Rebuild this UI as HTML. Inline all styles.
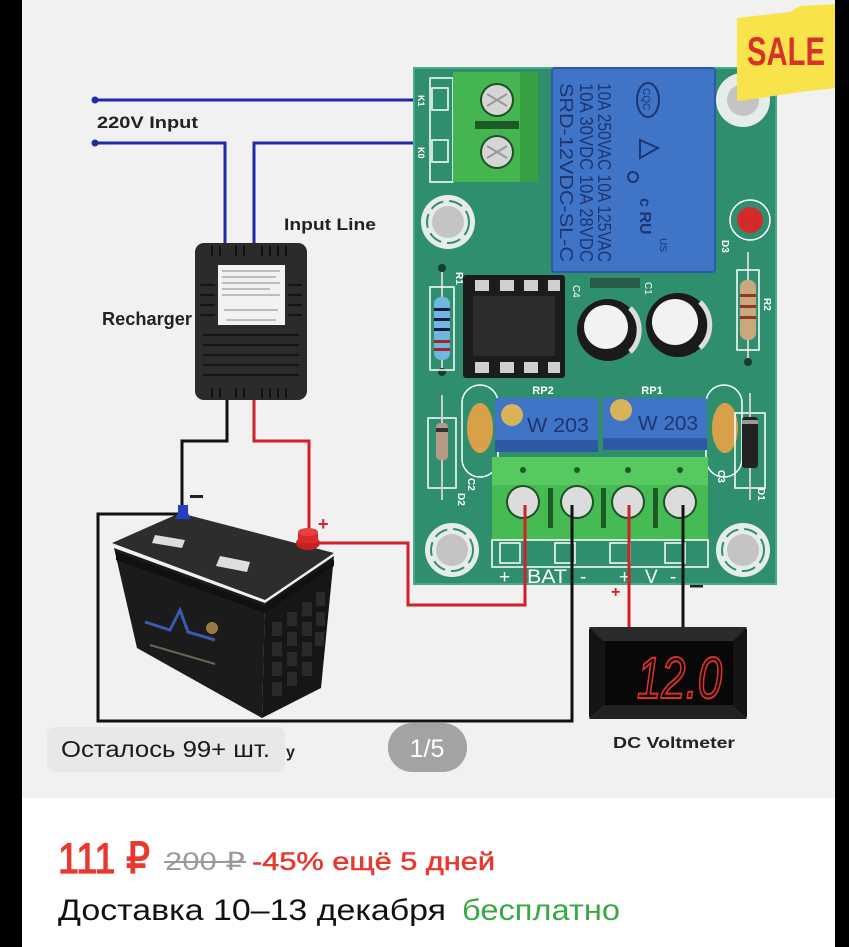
<!DOCTYPE html>
<html><head><meta charset="utf-8">
<style>html,body{margin:0;padding:0;background:#000;overflow:hidden}svg{display:block}</style>
</head><body>
<svg width="849" height="947" viewBox="0 0 849 947" xmlns="http://www.w3.org/2000/svg" font-family="'Liberation Sans', sans-serif">
<rect width="849" height="947" fill="#000"/>
<rect x="22" y="0" width="813" height="798" fill="#f1f1f1"/>
<rect x="22" y="798" width="813" height="149" fill="#fff"/>

<!-- blue input wires -->
<g stroke="#1f2aa6" stroke-width="3" fill="none">
<line x1="95" y1="100" x2="420" y2="100"/>
<polyline points="95,143 225,143 225,245"/>
<polyline points="420,143 254,143 254,245"/>
</g>
<circle cx="95" cy="100" r="3.5" fill="#1f2aa6"/>
<circle cx="95" cy="143" r="3.5" fill="#1f2aa6"/>

<g font-weight="bold" fill="#222">
<text x="97" y="128" font-size="17" textLength="101" lengthAdjust="spacingAndGlyphs">220V Input</text>
<text x="284" y="230" font-size="17" textLength="92" lengthAdjust="spacingAndGlyphs">Input Line</text>
<text x="102" y="325" font-size="18" textLength="90" lengthAdjust="spacingAndGlyphs">Recharger</text>
</g>

<!-- recharger/battery wires -->
<g stroke-width="3" fill="none">
<polyline stroke="#111" points="227,398 227,441 182,441 182,512"/>
<polyline stroke="#111" points="183,514 98,514 98,721 572,721 572,505"/>
<polyline stroke="#d0202a" points="254,398 254,441 309,441 309,535"/>
<polyline stroke="#d0202a" points="315,543 408,543 408,605 525,605 525,505"/>
</g>
<rect x="190" y="495" width="13" height="3" fill="#222"/>
<text x="318" y="530" font-size="18" font-weight="bold" fill="#d0202a">+</text>

<!-- recharger -->
<rect x="195" y="243" width="112" height="157" rx="9" fill="#2b2b2b"/>
<g stroke="#151515" stroke-width="2">
<line x1="200" y1="285" x2="215" y2="285"/><line x1="200" y1="295" x2="215" y2="295"/><line x1="200" y1="305" x2="215" y2="305"/><line x1="200" y1="315" x2="215" y2="315"/>
<line x1="288" y1="285" x2="302" y2="285"/><line x1="288" y1="295" x2="302" y2="295"/><line x1="288" y1="305" x2="302" y2="305"/><line x1="288" y1="315" x2="302" y2="315"/>
<line x1="203" y1="335" x2="299" y2="335"/><line x1="203" y1="345" x2="299" y2="345"/><line x1="203" y1="355" x2="299" y2="355"/><line x1="203" y1="365" x2="299" y2="365"/><line x1="203" y1="375" x2="299" y2="375"/>
</g>
<g stroke="#111" stroke-width="2">
<line x1="212" y1="246" x2="212" y2="256"/><line x1="220" y1="246" x2="220" y2="256"/><line x1="236" y1="246" x2="236" y2="256"/><line x1="244" y1="246" x2="244" y2="256"/><line x1="262" y1="246" x2="262" y2="256"/><line x1="270" y1="246" x2="270" y2="256"/><line x1="278" y1="246" x2="278" y2="256"/><line x1="286" y1="246" x2="286" y2="256"/>
<line x1="212" y1="388" x2="212" y2="398"/><line x1="220" y1="388" x2="220" y2="398"/><line x1="236" y1="388" x2="236" y2="398"/><line x1="244" y1="388" x2="244" y2="398"/><line x1="262" y1="388" x2="262" y2="398"/><line x1="270" y1="388" x2="270" y2="398"/><line x1="278" y1="388" x2="278" y2="398"/><line x1="286" y1="388" x2="286" y2="398"/>
</g>
<rect x="218" y="265" width="67" height="60" fill="#f2f2f2"/>
<g stroke="#888" stroke-width="1">
<line x1="222" y1="271" x2="280" y2="271"/><line x1="222" y1="277" x2="276" y2="277"/><line x1="222" y1="283" x2="280" y2="283"/><line x1="222" y1="289" x2="270" y2="289"/><line x1="222" y1="295" x2="280" y2="295"/><line x1="224" y1="310" x2="278" y2="310"/><line x1="226" y1="320" x2="276" y2="320"/>
</g>

<!-- battery -->
<polygon points="114,548 265,603 262,718 137,648" fill="#1b1b1b"/>
<polygon points="265,603 334,556 321,688 262,718" fill="#161616"/>
<polygon points="112,543 180,513 334,553 265,600" fill="#2d2d2d"/>
<polygon points="116,552 265,606 334,560 334,566 265,613 116,560" fill="#101010"/>
<g fill="#2a2a2a">
<rect x="272" y="622" width="10" height="14"/><rect x="287" y="612" width="10" height="14"/><rect x="302" y="602" width="10" height="14"/><rect x="316" y="592" width="9" height="14"/>
<rect x="272" y="642" width="10" height="14"/><rect x="287" y="632" width="10" height="14"/><rect x="302" y="622" width="10" height="14"/><rect x="316" y="612" width="9" height="14"/>
<rect x="272" y="662" width="10" height="14"/><rect x="287" y="652" width="10" height="14"/><rect x="302" y="642" width="10" height="14"/><rect x="315" y="632" width="9" height="14"/>
<rect x="272" y="682" width="10" height="14"/><rect x="287" y="672" width="10" height="14"/><rect x="302" y="662" width="10" height="14"/>
</g>
<polygon points="155,535 185,540 182,548 152,543" fill="#ddd"/>
<polygon points="220,556 250,562 247,572 216,566" fill="#ddd"/>
<path d="M145,622 L170,630 L180,610 L188,632 L215,640" stroke="#3a5ab0" stroke-width="3" fill="none"/>
<circle cx="212" cy="628" r="6" fill="#9a7a40"/>
<line x1="150" y1="645" x2="215" y2="664" stroke="#665" stroke-width="2"/>
<path d="M178,505 h10 v8 l3,6 h-16 l3,-6z" fill="#2440c0"/>
<ellipse cx="308" cy="543" rx="12" ry="7" fill="#c82020"/>
<rect x="298" y="532" width="20" height="11" fill="#d82a2a"/>
<ellipse cx="308" cy="532" rx="10" ry="4" fill="#e84040"/>

<!-- PCB -->
<rect x="413" y="67" width="364" height="518" fill="#2f8e6d"/>
<rect x="414" y="68" width="362" height="516" fill="none" stroke="#4aa886" stroke-width="2"/>

<!-- top terminal -->
<g stroke="#fff" stroke-width="1.5" fill="none">
<rect x="430" y="78" width="23" height="104"/>
<rect x="432" y="88" width="16" height="22"/>
<rect x="432" y="140" width="16" height="22"/>
</g>
<g font-size="9" fill="#fff" font-weight="bold">
<text transform="translate(418,95) rotate(90)">K1</text>
<text transform="translate(418,147) rotate(90)">K0</text>
</g>
<rect x="453" y="72" width="85" height="110" fill="#44b54f"/>
<rect x="520" y="72" width="18" height="110" fill="#37a143"/>
<rect x="475" y="121" width="44" height="8" fill="#1d5a28"/>
<circle cx="497" cy="100" r="17" fill="#1d4f25"/><circle cx="497" cy="100" r="15" fill="#d6d6d6"/>
<circle cx="497" cy="152" r="17" fill="#1d4f25"/><circle cx="497" cy="152" r="15" fill="#d6d6d6"/>
<g stroke="#999" stroke-width="2"><line x1="487" y1="94" x2="507" y2="106"/><line x1="487" y1="106" x2="507" y2="94"/><line x1="487" y1="146" x2="507" y2="158"/><line x1="487" y1="158" x2="507" y2="146"/></g>

<!-- relay -->
<rect x="552" y="68" width="163" height="204" rx="3" fill="#3f74c6" stroke="#2d5aa5" stroke-width="2"/>
<g fill="#1e3570" font-size="18">
<text transform="translate(598,83) rotate(90)" textLength="179" lengthAdjust="spacingAndGlyphs">10A 250VAC 10A 125VAC</text>
<text transform="translate(580,83) rotate(90)" textLength="179" lengthAdjust="spacingAndGlyphs">10A 30VDC 10A 28VDC</text>
<text transform="translate(560,83) rotate(90)" textLength="179" lengthAdjust="spacingAndGlyphs">SRD-12VDC-SL-C</text>
</g>
<ellipse cx="648" cy="100" rx="11" ry="17" fill="none" stroke="#1e3570" stroke-width="2"/>
<text transform="translate(643,88) rotate(90)" font-size="10" fill="#1e3570">CQC</text>
<polygon points="640,140 658,148 640,158" fill="none" stroke="#1e3570" stroke-width="2"/>
<circle cx="633" cy="177" r="5" fill="none" stroke="#1e3570" stroke-width="2"/>
<text transform="translate(640,198) rotate(90)" font-size="16" font-weight="bold" fill="#1e3570">c RU</text>
<text transform="translate(660,238) rotate(90)" font-size="10" fill="#1e3570">US</text>

<!-- holes -->
<g>
<circle cx="448" cy="222" r="27" fill="#e6ece9"/><circle cx="448" cy="222" r="21" fill="none" stroke="#2f8e6d" stroke-width="2" stroke-dasharray="14 6"/><circle cx="448" cy="222" r="16" fill="#c4c4c4"/>
<circle cx="452" cy="550" r="27" fill="#e6ece9"/><circle cx="452" cy="550" r="21" fill="none" stroke="#2f8e6d" stroke-width="2" stroke-dasharray="14 6"/><circle cx="452" cy="550" r="16" fill="#c4c4c4"/>
<circle cx="743" cy="550" r="27" fill="#e6ece9"/><circle cx="743" cy="550" r="21" fill="none" stroke="#2f8e6d" stroke-width="2" stroke-dasharray="14 6"/><circle cx="743" cy="550" r="16" fill="#c4c4c4"/>
<circle cx="743" cy="100" r="27" fill="#e6ece9"/><circle cx="743" cy="100" r="16" fill="#c4c4c4"/>
</g>

<!-- LED -->
<circle cx="750" cy="220" r="20" fill="none" stroke="#fff" stroke-width="1.5"/>
<circle cx="750" cy="220" r="13" fill="#d42a2a"/>
<text transform="translate(722,240) rotate(90)" font-size="10" fill="#fff" font-weight="bold">D3</text>

<!-- R1 -->
<line x1="442" y1="268" x2="442" y2="372" stroke="#ccc" stroke-width="2"/>
<circle cx="442" cy="268" r="4" fill="#1a3a30"/><circle cx="442" cy="372" r="4" fill="#1a3a30"/>
<rect x="430" y="287" width="24" height="83" fill="none" stroke="#fff" stroke-width="1.5"/>
<rect x="434" y="297" width="16" height="63" rx="7" fill="#6fb6e0"/>
<g fill="#1a1a40"><rect x="434" y="308" width="16" height="3"/><rect x="434" y="318" width="16" height="3"/><rect x="434" y="328" width="16" height="3"/></g>
<g fill="#a02828"><rect x="434" y="340" width="16" height="3"/><rect x="434" y="348" width="16" height="3"/></g>
<text transform="translate(456,272) rotate(90)" font-size="10" fill="#fff" font-weight="bold">R1</text>

<!-- IC -->
<rect x="463" y="275" width="102" height="103" rx="3" fill="#1c1c1c"/>
<rect x="473" y="296" width="82" height="60" fill="#2c2c2c"/>
<g fill="#d0d0d0">
<rect x="475" y="280" width="14" height="11"/><rect x="500" y="280" width="14" height="11"/><rect x="524" y="280" width="14" height="11"/><rect x="548" y="280" width="12" height="11"/>
<rect x="475" y="362" width="14" height="11"/><rect x="500" y="362" width="14" height="11"/><rect x="524" y="362" width="14" height="11"/><rect x="548" y="362" width="12" height="11"/>
</g>

<!-- caps -->
<rect x="590" y="278" width="50" height="10" fill="#2a5a4a"/>
<circle cx="608" cy="330" r="31" fill="#1a1a1a"/><circle cx="606" cy="327" r="22" fill="#f2f2f2"/>
<path d="M630,308 A31,31 0 0 1 630,352" stroke="#ddd" stroke-width="5" fill="none"/>
<circle cx="678" cy="325" r="32" fill="#1a1a1a"/><circle cx="675" cy="322" r="23" fill="#f2f2f2"/>
<path d="M700,302 A32,32 0 0 1 700,348" stroke="#ddd" stroke-width="5" fill="none"/>
<text transform="translate(573,285) rotate(90)" font-size="10" fill="#fff">C4</text>
<text transform="translate(645,282) rotate(90)" font-size="10" fill="#fff">C1</text>

<!-- R2 -->
<line x1="748" y1="252" x2="748" y2="362" stroke="#ccc" stroke-width="2"/>
<circle cx="748" cy="362" r="4" fill="#1a3a30"/>
<rect x="737" y="270" width="22" height="80" fill="none" stroke="#fff" stroke-width="1.5"/>
<rect x="740" y="280" width="16" height="60" rx="7" fill="#cba77c"/>
<g fill="#8b3a2a"><rect x="740" y="294" width="16" height="3"/><rect x="740" y="305" width="16" height="3"/><rect x="740" y="316" width="16" height="3"/></g>
<text transform="translate(764,298) rotate(90)" font-size="10" fill="#fff" font-weight="bold">R2</text>

<!-- ceramic caps -->
<rect x="462" y="385" width="36" height="92" rx="18" fill="none" stroke="#fff" stroke-width="1.5"/>
<rect x="706" y="385" width="36" height="92" rx="18" fill="none" stroke="#fff" stroke-width="1.5"/>
<ellipse cx="480" cy="428" rx="13" ry="25" fill="#d9a04a"/>
<ellipse cx="725" cy="428" rx="13" ry="25" fill="#d9a04a"/>

<!-- pots -->
<rect x="495" y="398" width="103" height="54" rx="2" fill="#3f74c6"/>
<rect x="495" y="440" width="103" height="12" fill="#2e5aa5"/>
<circle cx="512" cy="415" r="11" fill="#d7b45a"/>
<text x="527" y="432" font-size="20" fill="#1e3570" textLength="62" lengthAdjust="spacingAndGlyphs">W 203</text>
<rect x="603" y="398" width="104" height="52" rx="2" fill="#3f74c6"/>
<rect x="603" y="438" width="104" height="12" fill="#2e5aa5"/>
<circle cx="621" cy="410" r="11" fill="#d7b45a"/>
<text x="638" y="430" font-size="20" fill="#1e3570" textLength="60" lengthAdjust="spacingAndGlyphs">W 203</text>
<g font-size="11" fill="#fff" font-weight="bold" text-anchor="middle">
<text x="543" y="394">RP2</text><text x="652" y="394">RP1</text>
</g>

<!-- diodes -->
<rect x="428" y="418" width="28" height="70" fill="none" stroke="#fff" stroke-width="1.5"/>
<line x1="442" y1="395" x2="442" y2="500" stroke="#ccc" stroke-width="2"/>
<rect x="436" y="423" width="12" height="37" rx="4" fill="#b59a86"/>
<rect x="436" y="428" width="12" height="4" fill="#333"/>
<rect x="735" y="413" width="30" height="75" fill="none" stroke="#fff" stroke-width="1.5"/>
<line x1="750" y1="393" x2="750" y2="500" stroke="#ccc" stroke-width="2"/>
<rect x="742" y="417" width="16" height="51" rx="3" fill="#222"/>
<rect x="742" y="420" width="16" height="4" fill="#999"/>
<g font-size="10" fill="#fff" font-weight="bold">
<text transform="translate(468,478) rotate(90)">C2</text>
<text transform="translate(458,493) rotate(90)">D2</text>
<text transform="translate(718,470) rotate(90)">C3</text>
<text transform="translate(758,488) rotate(90)">D1</text>
</g>

<!-- bottom terminal -->
<rect x="492" y="457" width="216" height="83" fill="#47bb53"/>
<rect x="492" y="457" width="216" height="28" fill="#56c960"/>
<g fill="#1d5a28"><circle cx="523" cy="470" r="3"/><circle cx="577" cy="470" r="3"/><circle cx="628" cy="470" r="3"/><circle cx="680" cy="470" r="3"/>
<rect x="548" y="488" width="5" height="40"/><rect x="601" y="488" width="5" height="40"/><rect x="653" y="488" width="5" height="40"/></g>
<g>
<circle cx="523" cy="502" r="17" fill="#1d4f25"/><circle cx="523" cy="502" r="15" fill="#dcdcdc"/>
<circle cx="577" cy="502" r="17" fill="#1d4f25"/><circle cx="577" cy="502" r="15" fill="#dcdcdc"/>
<circle cx="628" cy="502" r="17" fill="#1d4f25"/><circle cx="628" cy="502" r="15" fill="#dcdcdc"/>
<circle cx="680" cy="502" r="17" fill="#1d4f25"/><circle cx="680" cy="502" r="15" fill="#dcdcdc"/>
</g>
<g stroke="#fff" stroke-width="1.5" fill="none">
<rect x="492" y="540" width="216" height="27"/>
<rect x="500" y="543" width="20" height="20"/><rect x="555" y="543" width="20" height="20"/><rect x="610" y="543" width="20" height="20"/><rect x="665" y="543" width="20" height="20"/>
</g>
<g font-size="19" fill="#fff">
<text x="499" y="583">+</text>
<text x="527" y="583" textLength="40" lengthAdjust="spacingAndGlyphs">BAT</text>
<text x="580" y="583">-</text>
<text x="619" y="583">+</text>
<text x="645" y="583">V</text>
<text x="670" y="583">-</text>
</g>

<!-- terminal wires -->
<g stroke-width="3">
<line x1="525" y1="505" x2="525" y2="606" stroke="#d0202a"/>
<line x1="572" y1="505" x2="572" y2="722" stroke="#111"/>
<line x1="629" y1="505" x2="629" y2="628" stroke="#d0202a"/>
<line x1="683" y1="505" x2="683" y2="628" stroke="#111"/>
</g>
<text x="611" y="597" font-size="16" font-weight="bold" fill="#d0202a">+</text>
<rect x="690" y="585" width="13" height="2.5" fill="#222"/>

<!-- voltmeter -->
<rect x="589" y="627" width="158" height="92" rx="3" fill="#141414"/>
<polygon points="589,627 747,627 733,641 603,641" fill="#2a2a2a"/>
<polygon points="589,719 747,719 733,705 603,705" fill="#222"/>
<rect x="605" y="641" width="128" height="64" fill="#080808"/>
<text x="637" y="698" font-size="58" font-style="italic" fill="none" stroke="#e0302a" stroke-width="2" textLength="85" lengthAdjust="spacingAndGlyphs">12.0</text>
<text x="613" y="748" font-size="16" font-weight="bold" fill="#222" textLength="122" lengthAdjust="spacingAndGlyphs">DC Voltmeter</text>

<!-- SALE sticker -->
<polygon points="737,18 790,12 800,6 835,4 835,88 800,92 760,98 737,101" fill="#f8e44a"/>
<text x="747" y="65" font-size="40" font-weight="bold" fill="#d8322a" textLength="78" lengthAdjust="spacingAndGlyphs">SALE</text>

<!-- overlays -->
<rect x="47" y="727" width="238" height="45" rx="8" fill="#e8e8e8"/>
<text x="61" y="757" font-size="23" fill="#1a1a1a" textLength="209" lengthAdjust="spacingAndGlyphs">Осталось 99+ шт.</text>
<text x="286" y="757" font-size="16" font-weight="bold" fill="#222">у</text>
<rect x="388" y="723" width="79" height="49" rx="24" fill="#a3a3a3"/>
<text x="427" y="757" font-size="25" fill="#fff" text-anchor="middle">1/5</text>

<!-- price -->
<text x="58" y="873" font-size="43" fill="#e8392f" stroke="#e8392f" stroke-width="1.2" textLength="92" lengthAdjust="spacingAndGlyphs">111 ₽</text>
<text x="165" y="870" font-size="25" fill="#9a9a9a" textLength="80" lengthAdjust="spacingAndGlyphs">200 ₽</text>
<line x1="164" y1="862" x2="246" y2="862" stroke="#9a9a9a" stroke-width="2"/>
<text x="252" y="870" font-size="25" fill="#e8392f" stroke="#e8392f" stroke-width="0.5" textLength="243" lengthAdjust="spacingAndGlyphs">-45% ещё 5 дней</text>
<text x="58" y="920" font-size="30" fill="#111" textLength="388" lengthAdjust="spacingAndGlyphs">Доставка 10–13 декабря</text>
<text x="462" y="920" font-size="30" fill="#3aa845" textLength="158" lengthAdjust="spacingAndGlyphs">бесплатно</text>
</svg>
</body></html>
